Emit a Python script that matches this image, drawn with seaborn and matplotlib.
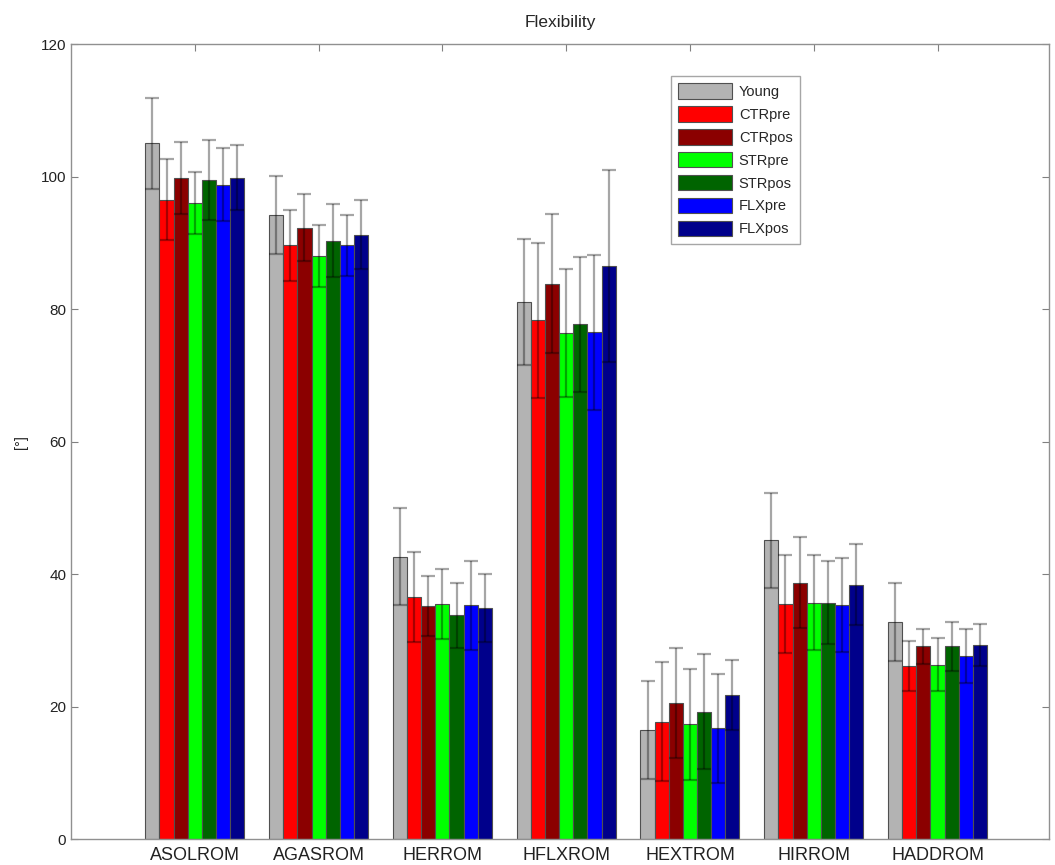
import numpy as np
import pandas as pd
import seaborn as sns
import matplotlib.pyplot as plt

# 측정 항목과 그룹
measures = ['ASOLROM', 'AGASROM', 'HERROM', 'HFLXROM', 'HEXTROM', 'HIRROM', 'HADDROM']
groups = ['Young', 'CTRpre', 'CTRpos', 'STRpre', 'STRpos', 'FLXpre', 'FLXpos']
colors = ['#b3b3b3', '#ff0000', '#8b0000', '#00ff00', '#006400', '#0000ff', '#00008b']

# 평균값 (그룹별, 측정 항목 순서)
young = [105.0, 94.2, 42.6, 81.1, 16.5, 45.1, 32.8]
ctrpre = [96.5, 89.6, 36.5, 78.3, 17.7, 35.5, 26.1]
ctrpos = [99.8, 92.3, 35.2, 83.8, 20.5, 38.7, 29.1]
strpre = [96.0, 88.0, 35.5, 76.4, 17.3, 35.7, 26.3]
strpos = [99.5, 90.3, 33.8, 77.7, 19.2, 35.7, 29.1]
flxpre = [98.8, 89.6, 35.3, 76.5, 16.7, 35.3, 27.6]
flxpos = [99.8, 91.2, 34.9, 86.5, 21.8, 38.4, 29.3]

# 표준편차
young_sd = [6.9, 5.9, 7.3, 9.5, 7.4, 7.2, 5.9]
ctrpre_sd = [6.1, 5.4, 6.8, 11.7, 9.0, 7.4, 3.8]
ctrpos_sd = [5.4, 5.1, 4.5, 10.5, 8.3, 6.9, 2.6]
strpre_sd = [4.7, 4.7, 5.3, 9.7, 8.4, 7.2, 4.0]
strpos_sd = [6.0, 5.5, 4.9, 10.2, 8.7, 6.3, 3.7]
flxpre_sd = [5.5, 4.6, 6.7, 11.7, 8.2, 7.1, 4.1]
flxpos_sd = [4.9, 5.2, 5.1, 14.5, 5.3, 6.1, 3.2]

means = [young, ctrpre, ctrpos, strpre, strpos, flxpre, flxpos]
sds = [young_sd, ctrpre_sd, ctrpos_sd, strpre_sd, strpos_sd, flxpre_sd, flxpos_sd]

rows = []
for g, m, s in zip(groups, means, sds):
    for meas, v, e in zip(measures, m, s):
        rows.append({'measure': meas, 'group': g, 'value': v, 'sd': e})
df = pd.DataFrame(rows)

sns.set_style('white')
plt.rcParams['font.family'] = ['Liberation Sans', 'DejaVu Sans']

fig = plt.figure(figsize=(10.55, 8.65), dpi=100)
ax = fig.add_axes([0.0673, 0.030, 0.927, 0.919])

sns.barplot(data=df, x='measure', y='value', hue='group', hue_order=groups,
            order=measures, palette=colors, width=0.8, errorbar=None,
            edgecolor='#505050', linewidth=0.8, saturation=1, ax=ax)

# 에러바 - 반투명 검정
for cont, s in zip(ax.containers, sds):
    xs = [b.get_x() + b.get_width() / 2 for b in cont]
    ys = [b.get_height() for b in cont]
    ax.errorbar(xs, ys, yerr=s, fmt='none', ecolor='black', alpha=0.35,
                elinewidth=1.6, capsize=5, capthick=1.6, zorder=5)

ax.set_xlim(-1.0, 6.9)
ax.set_ylim(0, 120)
ax.set_yticks(range(0, 121, 20))
ax.set_xlabel('')
ax.set_ylabel('[°]', fontsize=10.5, labelpad=9)
ax.set_title('Flexibility', fontsize=12.5, pad=12)
ax.tick_params(axis='both', direction='in', length=5, color='#808080',
               top=True, right=True, left=True, bottom=True, labelcolor='#222222')
ax.tick_params(axis='y', labelsize=11)
ax.tick_params(axis='x', labelsize=13, pad=6)
for sp in ax.spines.values():
    sp.set_color('#909090')
    sp.set_linewidth(1.0)

leg = ax.legend(loc='upper left', bbox_to_anchor=(0.606, 0.969), fontsize=10.5,
                frameon=True, fancybox=False, edgecolor='#909090',
                handlelength=3.7, handleheight=1.25, labelspacing=0.5,
                borderpad=0.5, handletextpad=0.45)
leg.get_frame().set_linewidth(1.0)

fig.savefig('out.png', dpi=100)
